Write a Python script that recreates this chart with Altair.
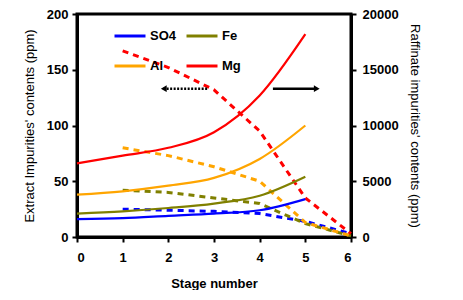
import altair as alt
import pandas as pd

series = ["SO4", "Fe", "Al", "Mg"]
colors = ["#0000FF", "#808000", "#FFA500", "#FF0000"]

extract_stage = [0, 1, 2, 3, 4, 5]
extract_so4 = [16, 17, 19, 21, 24, 34]
extract_fe = [21, 23, 26, 30, 37, 54]
extract_al = [38, 41, 46, 53, 70, 100]
extract_mg = [66, 73, 80, 94, 127, 182]

raff_stage = [1, 2, 3, 4, 5, 6]
raff_so4 = [2500, 2400, 2300, 2100, 1400, 300]
raff_fe = [4200, 4000, 3500, 3000, 1200, 100]
raff_al = [8000, 7300, 6300, 5000, 1300, 100]
raff_mg = [16700, 15200, 13200, 9500, 3500, 300]

stage_ticks = [0, 1, 2, 3, 4, 5, 6]
left_ticks = [0, 50, 100, 150, 200]
right_ticks = [0, 5000, 10000, 15000, 20000]

# annotation arrows (stage, left-axis value)
dotted_arrow_from = [2.85]
dotted_arrow_to = [1.9]
solid_arrow_from = [4.29]
solid_arrow_to = [5.25]
arrow_level = [133]

ext_vals = [extract_so4, extract_fe, extract_al, extract_mg]
raf_vals = [raff_so4, raff_fe, raff_al, raff_mg]

ext_df = pd.DataFrame({
    "stage": extract_stage * 4,
    "value": sum(ext_vals, []),
    "series": sum([[s] * len(extract_stage) for s in series], []),
})
raf_df = pd.DataFrame({
    "stage": raff_stage * 4,
    "value": sum(raf_vals, []),
    "series": sum([[s] * len(raff_stage) for s in series], []),
})
dot_df = pd.DataFrame({"x1": dotted_arrow_from, "x2": dotted_arrow_to, "y": arrow_level})
sol_df = pd.DataFrame({"x1": solid_arrow_from, "x2": solid_arrow_to, "y": arrow_level})

FONT = "Liberation Sans"
x_title = "Stage number"
left_title = "Extract Impurities' contents (ppm)"
right_title = "Raffinate impurities' contents (ppm)"

x_axis = alt.Axis(values=stage_ticks, format="d", title=x_title, labelPadding=9,
                  titlePadding=13, titleFontWeight="bold")
left_axis = alt.Axis(values=left_ticks, format="d", title=left_title, labelPadding=4,
                     titlePadding=10, titleFontWeight="normal", orient="left")
right_axis = alt.Axis(values=right_ticks, format="d", title=right_title, labelPadding=6,
                      titlePadding=9, titleFontWeight="normal", orient="right")

x_scale = alt.Scale(domain=[0, 6], nice=False)
left_scale = alt.Scale(domain=[0, 200], nice=False)
right_scale = alt.Scale(domain=[0, 20000], nice=False)
color_scale = alt.Scale(domain=series, range=colors)

solid = alt.Chart(ext_df).mark_line(strokeWidth=2.2, interpolate="monotone").encode(
    x=alt.X("stage:Q", scale=x_scale, axis=x_axis),
    y=alt.Y("value:Q", scale=left_scale, axis=left_axis),
    color=alt.Color("series:N", scale=color_scale, sort=series,
                    legend=alt.Legend(title=None, orient="none", legendX=36, legendY=5,
                                      direction="horizontal",
                                      columns=2, symbolType="stroke", symbolSize=961,
                                      symbolStrokeWidth=3, labelFont=FONT, labelFontSize=13,
                                      labelFontWeight="bold", labelOffset=3,
                                      columnPadding=3, rowPadding=6, labelColor="black")),
)

dot_rule = alt.Chart(dot_df).mark_rule(color="black", strokeWidth=2.5, strokeDash=[2, 1.5]).encode(
    x=alt.X("x1:Q", scale=x_scale, axis=x_axis),
    x2="x2:Q",
    y=alt.Y("y:Q", scale=left_scale, axis=left_axis),
)
dot_head = alt.Chart(dot_df).mark_point(shape="triangle-left", filled=True, color="black",
                                        size=45, opacity=1).encode(
    x=alt.X("x2:Q", scale=x_scale, axis=x_axis),
    y=alt.Y("y:Q", scale=left_scale, axis=left_axis),
)
sol_rule = alt.Chart(sol_df).mark_rule(color="black", strokeWidth=2.5).encode(
    x=alt.X("x1:Q", scale=x_scale, axis=x_axis),
    x2="x2:Q",
    y=alt.Y("y:Q", scale=left_scale, axis=left_axis),
)
sol_head = alt.Chart(sol_df).mark_point(shape="triangle-right", filled=True, color="black",
                                        size=45, opacity=1).encode(
    x=alt.X("x2:Q", scale=x_scale, axis=x_axis),
    y=alt.Y("y:Q", scale=left_scale, axis=left_axis),
)

left_layer = alt.layer(solid, dot_rule, dot_head, sol_rule, sol_head)

dashed = alt.Chart(raf_df).mark_line(strokeWidth=3, strokeDash=[6, 5]).encode(
    x=alt.X("stage:Q", scale=x_scale, axis=x_axis),
    y=alt.Y("value:Q", scale=right_scale, axis=right_axis),
    color=alt.Color("series:N", scale=color_scale, sort=series, legend=None),
)

chart = alt.layer(dashed, left_layer).resolve_scale(
    y="independent", color="independent"
).resolve_legend(color="independent").properties(
    width=274, height=223,
    padding={"left": 15, "top": 0, "right": 5, "bottom": 0},
    background="white",
).configure_view(
    stroke="black", strokeWidth=3
).configure_axis(
    labelFont=FONT, labelFontSize=13, labelFontWeight="bold", labelColor="black",
    titleFont=FONT, titleFontSize=13, titleColor="black",
    domainColor="black", domainWidth=3, tickColor="black", tickWidth=2, tickSize=5,
    grid=False,
)

chart.save("out.html", embed_options={"renderer": "svg", "actions": False})
